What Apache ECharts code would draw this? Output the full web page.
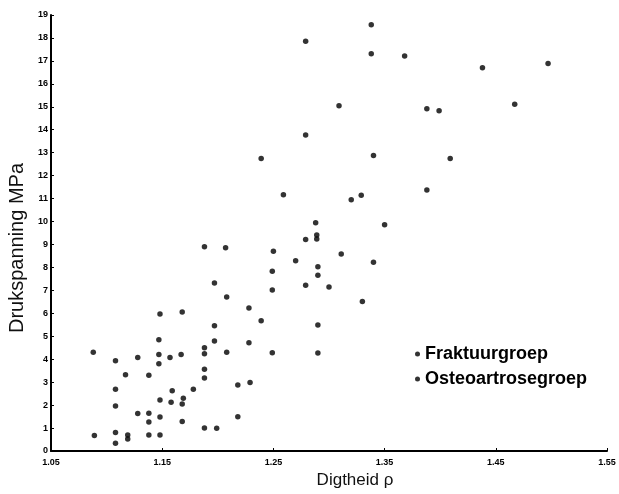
<!DOCTYPE html>
<html>
<head>
<meta charset="utf-8">
<script src="https://cdn.jsdelivr.net/npm/echarts@6/dist/echarts.min.js"></script>
<style>html,body{margin:0;padding:0;background:#fff;}#c{width:619px;height:494px;}</style>
</head>
<body>
<div id="c"></div>
<script>
// Density (Digtheid, rho) values
const density = [1.148,1.168,1.228,1.197,1.239,1.147,1.197,1.228,1.088,1.147,1.167,1.188,1.188,1.208,1.108,1.128,1.157,1.147,1.188,1.188,1.117,1.138,1.218,1.229,1.108,1.159,1.178,1.148,1.158,1.169,1.168,1.108,1.128,1.138,1.148,1.138,1.168,1.218,1.188,1.199,1.089,1.108,1.119,1.119,1.138,1.148,1.108,
  1.239,1.340,1.259,1.320,1.329,1.288,1.279,1.289,1.289,1.188,1.207,1.250,1.311,1.340,1.270,1.290,1.249,1.290,1.197,1.279,1.300,1.208,1.249,1.330,
  1.338,1.279,1.338,1.368,1.309,1.388,1.399,1.279,1.409,1.438,1.497,1.467,1.388,
  1.290,1.249,1.290,1.350];
// Compressive stress (Drukspanning, MPa) values
const stress = [5.97,6.06,6.23,5.46,5.68,4.85,4.79,4.72,4.30,4.21,4.21,4.50,4.24,4.30,3.93,4.07,4.07,3.80,3.56,3.18,3.32,3.30,2.88,2.98,2.69,2.63,2.69,2.22,2.12,2.30,2.05,1.96,1.63,1.64,1.48,1.26,1.29,1.49,1.00,0.99,0.68,0.81,0.70,0.52,0.70,0.70,0.34,
  12.75,12.88,11.17,10.95,11.14,9.95,9.22,9.41,9.24,8.90,8.86,8.70,8.58,8.22,8.29,8.03,7.83,7.66,7.32,7.22,7.15,6.71,7.02,6.51,
  18.58,17.86,17.31,17.21,15.05,14.92,14.83,13.77,12.75,16.70,16.89,15.11,11.37,
  5.49,4.28,4.27,9.86];
const groupNames = ['Fraktuurgroep', 'Osteoartrosegroep'];
const xTickLabels = ['1.05','1.15','1.25','1.35','1.45','1.55'];
const yTickLabels = ['0','1','2','3','4','5','6','7','8','9','10','11','12','13','14','15','16','17','18','19'];
const xTitle = 'Digtheid \u03c1';
const yTitle = 'Drukspanning MPa';

const points = density.map((d, i) => [d, stress[i]]);
const FONT = 'Liberation Sans, Arial, sans-serif';

const chart = echarts.init(document.getElementById('c'), null, {renderer: 'canvas'});
chart.setOption({
  animation: false,
  backgroundColor: '#ffffff',
  grid: {left: 51, right: 12, top: 15, bottom: 43, containLabel: false},
  xAxis: {
    type: 'value', min: 1.05, max: 1.55, interval: 0.1,
    axisLine: {show: true, onZero: false, lineStyle: {color: '#000', width: 2}},
    axisTick: {show: true, inside: true, length: 3, lineStyle: {color: '#000', width: 1}},
    splitLine: {show: false},
    axisLabel: {
      margin: 7, color: '#000', fontSize: 9, fontWeight: 'bold', fontFamily: FONT,
      formatter: (v) => {
        const idx = Math.round((v - 1.05) / 0.1);
        return xTickLabels[idx] !== undefined ? xTickLabels[idx] : '';
      }
    }
  },
  yAxis: {
    type: 'value', min: 0, max: 19, interval: 1,
    axisLine: {show: true, onZero: false, lineStyle: {color: '#000', width: 2}},
    axisTick: {show: true, inside: true, length: 3, lineStyle: {color: '#000', width: 1}},
    splitLine: {show: false},
    axisLabel: {
      margin: 3, color: '#000', fontSize: 9, fontWeight: 'bold', fontFamily: FONT,
      formatter: (v) => yTickLabels[Math.round(v)] !== undefined ? yTickLabels[Math.round(v)] : ''
    }
  },
  legend: {
    orient: 'vertical', left: 410, top: 340, itemGap: 7,
    icon: 'circle', itemWidth: 5, itemHeight: 5,
    data: groupNames,
    textStyle: {color: '#000', fontSize: 18, fontWeight: 'bold', fontFamily: FONT, lineHeight: 18}
  },
  graphic: [
    {type: 'text', x: 17, y: 248, rotation: Math.PI / 2,
     style: {text: yTitle, fill: '#111', font: '20px ' + FONT, align: 'center', verticalAlign: 'middle'}},
    {type: 'text', x: 355, y: 480,
     style: {text: xTitle, fill: '#111', font: '17px ' + FONT, align: 'center', verticalAlign: 'middle'}}
  ],
  series: [
    {name: groupNames[0], type: 'scatter', data: points, symbol: 'circle', symbolSize: 5.5,
     itemStyle: {color: '#000'}},
    {name: groupNames[1], type: 'scatter', data: [], symbol: 'circle', symbolSize: 5.5,
     itemStyle: {color: '#000'}}
  ]
});
</script>
</body>
</html>
